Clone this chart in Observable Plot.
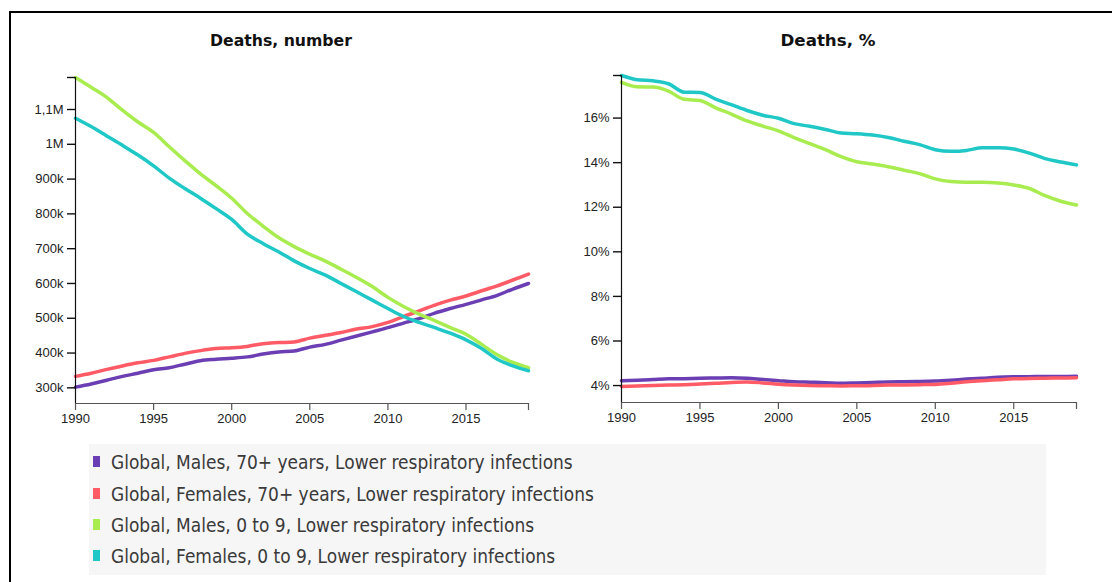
<!DOCTYPE html>
<html><head><meta charset="utf-8">
<script src="https://cdn.jsdelivr.net/npm/d3@7"></script>
<script src="https://cdn.jsdelivr.net/npm/@observablehq/plot@0.6"></script>
<style>
html,body{margin:0;padding:0;background:#fff;}
body{width:1112px;height:582px;overflow:hidden;position:relative;}
#frame{position:absolute;left:9px;top:11px;width:1300px;height:800px;border:2px solid #000;box-sizing:border-box;}
.title{position:absolute;font-family:"DejaVu Sans";font-weight:bold;color:#111;white-space:nowrap;transform:translate(-50%,-50%);}
.chart{position:absolute;top:60px;}
.chart svg text{font-family:"Liberation Sans",Arial,sans-serif !important;font-size:13px !important;}
#legend{position:absolute;left:89px;top:444px;width:957px;height:131px;background:#f6f6f6;}
.item{position:absolute;left:0;height:20px;white-space:nowrap;}
.sw{position:absolute;left:4px;top:4px;width:7px;height:11px;}
.lt{position:absolute;left:22px;top:0;line-height:20px;font-family:"DejaVu Sans Condensed","DejaVu Sans";color:#3a3a3a;}
</style></head>
<body>
<div id="frame"></div>
<div class="title" id="t1" style="left:281px;top:40px">Deaths, number</div>
<div class="title" id="t2" style="left:828px;top:40px">Deaths, %</div>
<div class="chart" id="c1" style="left:0px"></div>
<div class="chart" id="c2" style="left:545px"></div>
<div id="legend"></div>
<script>
const years = [1990,1991,1992,1993,1994,1995,1996,1997,1998,1999,2000,2001,2002,2003,2004,2005,2006,2007,2008,2009,2010,2011,2012,2013,2014,2015,2016,2017,2018,2019];

const seriesNames = [
  "Global, Males, 70+ years, Lower respiratory infections",
  "Global, Females, 70+ years, Lower respiratory infections",
  "Global, Males, 0 to 9, Lower respiratory infections",
  "Global, Females, 0 to 9, Lower respiratory infections"
];
const seriesColors = ["#6b3fb3", "#ff5b66", "#a8ec50", "#1fc8c6"];

// Deaths, number
const numMales70   = [302000,311000,322000,333000,342000,352000,358000,368000,378000,382000,385000,389000,397000,403000,406000,417000,425000,437000,449000,461000,473000,486000,499000,515000,528000,540000,553000,566000,584000,600000];
const numFemales70 = [333000,342000,353000,363000,372000,379000,389000,399000,407000,413000,415000,419000,427000,430000,432000,443000,451000,459000,469000,476000,488000,505000,521000,538000,552000,564000,579000,593000,610000,627000];
const numMales09   = [1192000,1164000,1135000,1098000,1064000,1034000,993000,953000,915000,881000,845000,801000,765000,732000,706000,684000,664000,641000,617000,591000,560000,534000,512000,493000,473000,454000,425000,395000,373000,358000];
const numFemales09 = [1075000,1051000,1024000,997000,969000,938000,903000,873000,845000,815000,784000,742000,715000,691000,665000,643000,624000,600000,576000,552000,528000,505000,488000,473000,457000,438000,413000,382000,363000,349000];

// Deaths, %
const pctMales70   = [4.22,4.24,4.27,4.30,4.31,4.33,4.34,4.35,4.33,4.27,4.22,4.17,4.15,4.13,4.10,4.12,4.14,4.16,4.17,4.18,4.20,4.24,4.29,4.33,4.37,4.39,4.40,4.41,4.41,4.42];
const pctFemales70 = [3.96,3.98,4.00,4.02,4.04,4.07,4.10,4.14,4.16,4.12,4.06,4.02,4.00,3.99,3.98,3.99,4.00,4.02,4.03,4.04,4.05,4.10,4.17,4.22,4.26,4.30,4.32,4.33,4.34,4.35];
const pctMales09   = [17.60,17.40,17.39,17.21,16.84,16.79,16.46,16.18,15.87,15.64,15.43,15.12,14.85,14.58,14.27,14.04,13.94,13.82,13.66,13.51,13.27,13.15,13.12,13.12,13.09,13.00,12.84,12.52,12.27,12.10];
const pctFemales09 = [17.91,17.72,17.67,17.54,17.16,17.15,16.85,16.60,16.34,16.13,15.99,15.75,15.63,15.49,15.33,15.30,15.24,15.13,14.96,14.81,14.58,14.51,14.55,14.67,14.67,14.61,14.43,14.18,14.03,13.90];

const numTicks = [300000,400000,500000,600000,700000,800000,900000,1000000,1100000];
const pctTicks = [4,6,8,10,12,14,16];
const xTicks = [1990,1995,2000,2005,2010,2015];

function toRows(arrs){
  const rows = [];
  arrs.forEach((arr,i)=>arr.forEach((v,j)=>rows.push({year:years[j], value:v, series:seriesNames[i]})));
  return rows;
}
const numRows = toRows([numMales70,numFemales70,numMales09,numFemales09]);
const pctRows = toRows([pctMales70,pctFemales70,pctMales09,pctFemales09]);

function fmtNum(d){
  if (d >= 1e6) return (d/1e6).toString().replace(".", ",") + "M";
  return (d/1000) + "k";
}

function makeChart(rows, ticks, yMin, fmt, opts){
  const yMax = d3.max(rows, d=>d.value);
  const xEnd = years[years.length-1];
  return Plot.plot({
    width: opts.width, height: 380,
    marginLeft: opts.ml, marginRight: opts.mr, marginTop: opts.mt, marginBottom: opts.mb,
    style: {fontFamily: "Liberation Sans, Arial, sans-serif", fontSize: "13px", color: "#222", background: "transparent", overflow: "visible"},
    x: {domain: [years[0], xEnd], type: "linear"},
    y: {domain: [yMin, yMax]},
    color: {domain: seriesNames, range: seriesColors},
    marks: [
      Plot.line(rows, {x:"year", y:"value", z:"series", stroke:"series", strokeWidth: opts.sw, curve:"monotone-x", strokeLinejoin:"round", strokeLinecap:"round"}),
      Plot.ruleX([years[0]], {stroke:"#111", strokeWidth:1.2}),
      Plot.ruleY([yMin], {stroke:"#555", strokeWidth:1.2}),
      Plot.axisY({ticks: ticks.concat([yMax]), tickSize: 8, tickPadding: 4, tickFormat: d => d === yMax ? "" : fmt(d), stroke:"#111", strokeWidth:1.4, label:null, fill:"#222"}),
      Plot.axisX({ticks: xTicks.concat([xEnd]), tickSize: 7, tickPadding: 3, tickFormat: d => d === xEnd ? "" : String(d), stroke:"#555", strokeWidth:1.2, label:null, fill:"#222"})
    ]
  });
}

document.getElementById("c1").appendChild(makeChart(numRows, numTicks, 255000, fmtNum, {width:545, ml:75, mr:17, mt:17, mb:37, sw:3.5}));
document.getElementById("c2").appendChild(makeChart(pctRows, pctTicks, 3.24, d => d + "%", {width:567, ml:76, mr:36, mt:15, mb:38, sw:3.5}));

// legend
const legend = document.getElementById("legend");
const rowY = [8, 40, 71, 102];
const canvas = document.createElement("canvas").getContext("2d");
function fitSize(text, family, weight, target){
  canvas.font = `${weight} 100px ${family}`;
  return 100 * target / canvas.measureText(text).width;
}
const legSize = fitSize(seriesNames[0], '"DejaVu Sans Condensed"', "normal", 462);
seriesNames.forEach((name,i)=>{
  const it = document.createElement("div");
  it.className = "item"; it.style.top = rowY[i] + "px";
  const sw = document.createElement("div"); sw.className = "sw"; sw.style.background = seriesColors[i];
  const t = document.createElement("div"); t.className = "lt"; t.textContent = name; t.style.fontSize = legSize.toFixed(2) + "px";
  it.appendChild(sw); it.appendChild(t); legend.appendChild(it);
});
document.getElementById("t1").style.fontSize = fitSize("Deaths, number", '"DejaVu Sans"', "bold", 142).toFixed(2) + "px";
document.getElementById("t2").style.fontSize = fitSize("Deaths, %", '"DejaVu Sans"', "bold", 95).toFixed(2) + "px";
</script>
</body></html>
